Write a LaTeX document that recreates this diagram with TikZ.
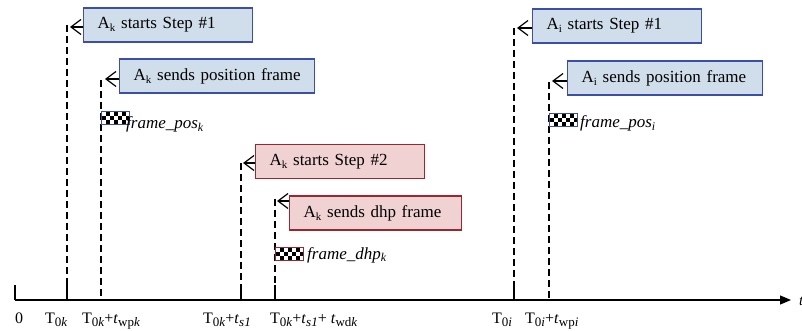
\documentclass[tikz,border=0pt]{standalone}
\usepackage{fontspec}
\setmainfont{Liberation Serif}
\usetikzlibrary{arrows.meta}
\definecolor{bfill}{HTML}{CFDEEA}
\definecolor{bdraw}{HTML}{3C4FA6}
\definecolor{rfill}{HTML}{F1D2D3}
\definecolor{rdraw}{HTML}{9B2630}
\newcommand\bsub[1]{\raisebox{-3pt}{\fontsize{11}{11}\selectfont #1}}
\newcommand\asub[1]{\raisebox{-3pt}{\fontsize{13}{13}\selectfont #1}}
\begin{document}
\begin{tikzpicture}[x=1pt,y=-1pt,
  boxtext/.style={font=\fontsize{17}{20}\selectfont},
  stepbox/.style={draw, line width=1.4pt, minimum height=34pt, inner xsep=14pt, inner ysep=0pt,
    anchor=west, boxtext, text width=#1, align=left},
  bluebox/.style={stepbox=#1, draw=bdraw, fill=bfill},
  redbox/.style={stepbox=#1, draw=rdraw, fill=rfill},
  dline/.style={line width=1.2pt, dash pattern=on 7pt off 4pt},
  barb/.style={line width=1.2pt, -{Straight Barb[length=10pt,width=15pt]}},
  tickline/.style={line width=1.2pt},
  axlabel/.style={anchor=base west, inner sep=0pt, font=\fontsize{16}{18}\selectfont},
  framelabel/.style={anchor=base west, inner sep=0pt, font=\fontsize{17}{20}\selectfont\itshape},
  chk/.style={draw=#1, line width=1.2pt, fill=black, minimum width=28pt, minimum height=13pt,
    inner sep=0pt, anchor=north west,
    path picture={
      \foreach \i in {0,2,4,6}{
        \fill[white] ([xshift=\i*4pt, yshift=0pt]path picture bounding box.north west) rectangle ++(4,4.33);
        \fill[white] ([xshift=\i*4pt, yshift=-8.67pt]path picture bounding box.north west) rectangle ++(4,4.33);}
      \foreach \i in {1,3,5}{
        \fill[white] ([xshift=\i*4pt, yshift=-4.33pt]path picture bounding box.north west) rectangle ++(4,4.33);}
    }}
]
\useasboundingbox (0,0) rectangle (802,331);

% boxes
\node[bluebox=141pt] (b1) at (83,25) {A\bsub{k} starts Step \#1};
\node[bluebox=167pt] (b2) at (119,76) {A\bsub{k} sends position frame};
\node[redbox=141pt] (b3) at (255,161.5) {A\bsub{k} starts Step \#2};
\node[redbox=144pt] (b4) at (289,213) {A\bsub{k} sends dhp frame};
\node[bluebox=141pt] (b5) at (532,26) {A\bsub{i} starts Step \#1};
\node[bluebox=167pt] (b6) at (567,78) {A\bsub{i} sends position frame};

% arrow tips
\coordinate (t1) at (70,27);
\coordinate (t2) at (105,79);
\coordinate (t3) at (243,163);
\coordinate (t4) at (277,201);
\coordinate (t5) at (517,28);
\coordinate (t6) at (552,81);
\foreach \b/\t in {b1/t1,b2/t2,b3/t3,b4/t4,b5/t5,b6/t6}
  \draw[barb] (\b.west|-\t) -- (\t);

% axis
\coordinate (ax0) at (15,300);
\coordinate (ax1) at (791,300);
\draw[line width=1.2pt, -{Triangle[length=11pt,width=9pt]}] (ax0) -- (ax1);

% dashed lines
\coordinate (l1t) at (67,25);   \coordinate (l1b) at (67,300);
\coordinate (l2t) at (101,80);  \coordinate (l2b) at (101,300);
\coordinate (l3t) at (241,163); \coordinate (l3b) at (241,300);
\coordinate (l4t) at (275,199); \coordinate (l4b) at (275,300);
\coordinate (l5t) at (514,28);  \coordinate (l5b) at (514,300);
\coordinate (l6t) at (549,82);  \coordinate (l6b) at (549,300);
\foreach \l in {l1,l2,l3,l4,l5,l6}
  \draw[dline] (\l t) -- (\l b);

% solid ticks
\foreach \x in {15,67,241,275,514}
  \draw[tickline] (\x,285) -- (\x,300);

% frames
\node[chk=bdraw] (fk) at (101,111) {};
\node[chk=rdraw] (fd) at (275,247) {};
\node[chk=bdraw] (fi) at (549,113) {};
\node[framelabel] (fkl) at (126,129) {frame\_pos\textsubscript{k}};
\node[framelabel] (fdl) at (307,259) {frame\_dhp\textsubscript{k}};
\node[framelabel] (fil) at (580,128) {frame\_pos\textsubscript{i}};

% axis labels
\node[axlabel] (a0) at (15,323) {0};
\node[axlabel] (a1) at (45,323) {T\asub{0\textit{k}}};
\node[axlabel] (a2) at (82,323) {T\asub{0\textit{k}}+\textit{t}\asub{wp\textit{k}}};
\node[axlabel] (a3) at (203,323) {T\asub{0\textit{k}}+\textit{t}\asub{\textit{s1}}};
\node[axlabel] (a4) at (270,323) {T\asub{0\textit{k}}+\textit{t}\asub{\textit{s1}}+ \textit{t}\asub{wd\textit{k}}};
\node[axlabel] (a5) at (492,323) {T\asub{0\textit{i}}};
\node[axlabel] (a6) at (525,323) {T\asub{0\textit{i}}+\textit{t}\asub{wp\textit{i}}};
\node[anchor=west, inner sep=0pt, font=\fontsize{15}{18}\selectfont] (tl) at (799,301) {\textit{t}};
\end{tikzpicture}
\end{document}
